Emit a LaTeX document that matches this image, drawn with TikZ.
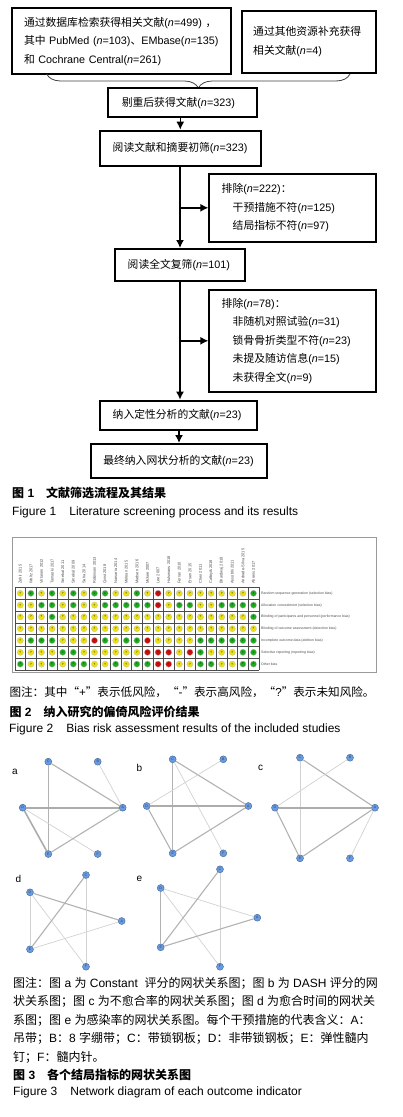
\documentclass[tikz,border=0pt]{standalone}
\usepackage{fontspec}
\setmainfont{Liberation Sans}
\newfontfamily\cjk{Noto Sans CJK SC}
\usetikzlibrary{positioning, arrows.meta, decorations.pathreplacing}

% Chinese runs are set in the CJK face
\newcommand\zh[1]{{\cjk #1}}

\definecolor{risk1}{RGB}{30,170,30}
\definecolor{risk2}{RGB}{235,225,20}
\definecolor{risk3}{RGB}{200,15,15}
\definecolor{netblue}{RGB}{105,155,225}
\newcommand\risksym[1]{\ifcase#1\or+\or?\or--\fi}

\begin{document}
\begin{tikzpicture}[x=1pt, y=-1pt,
    flowbox/.style={draw, line width=1.9pt, align=left, inner sep=0pt, font=\fontsize{10.8}{18.5}\selectfont},
    arr/.style={line width=1.5pt, -{Latex[length=8pt,width=8pt]}},
    captxt/.style={anchor=west, inner sep=0pt, font=\fontsize{12}{14}\selectfont},
    capbold/.style={captxt, font=\fontsize{12}{14}\selectfont\bfseries},
    notetxt/.style={captxt, font=\fontsize{11.6}{14}\selectfont},
    gridline/.style={black!70, line width=0.4pt},
    riskdot/.style={circle, draw=black!25, line width=0.3pt, minimum size=6.2pt, inner sep=0pt, font=\fontsize{3}{3}\selectfont},
    collab/.style={rotate=90, anchor=west, inner sep=0pt, text=black!70, font=\fontsize{4}{4}\selectfont},
    rowlab/.style={anchor=west, inner sep=0pt, text=black!70, font=\fontsize{3.5}{4}\selectfont},
    netnode/.style={circle, fill=netblue, draw=netblue!65!black, line width=0.4pt, minimum size=7pt, inner sep=0pt, text=netblue!40!black, font=\fontsize{3.5}{3.5}\selectfont},
    wt1/.style={gray!35, line width=0.7pt},
    wt2/.style={gray!60, line width=1.1pt},
    wt3/.style={gray!65, line width=1.6pt},
    panlab/.style={inner sep=0pt, font=\fontsize{10}{10}\selectfont}]
    \useasboundingbox (0,0) rectangle (402,1117);

    % 1. Records from databases and other sources
    \node[flowbox, minimum width=218.4pt, minimum height=65.7pt, text width=195pt] (src) at (121.5,41.2)
        {\zh{通过数据库检索获得相关文献}(\textit{n}=499)~\zh{，}\\\zh{其中}~PubMed~(\textit{n}=103)\zh{、}EMbase(\textit{n}=135)\\\zh{和}~Cochrane~Central(\textit{n}=261)};
    \node[flowbox, minimum width=133.7pt, minimum height=62pt, text width=112pt] (other) at (309.2,41.7)
        {\zh{通过其他资源补充获得}\\\zh{相关文献}(\textit{n}=4)};

    % 2. Brace joining both sources
    \coordinate (brl) at (46.7,74);
    \coordinate (brr) at (350,74);
    \draw[black!75, line width=0.8pt, decorate, decoration={brace, amplitude=14pt}] (brr) -- (brl);

    % 3. Screening steps
    \node[flowbox, minimum width=149pt, minimum height=29pt, text width=122pt] (dedup) at (182.8,102.8)
        {\zh{剔重后获得文献}(\textit{n}=323)};
    \node[flowbox, minimum width=160.7pt, minimum height=35.3pt, text width=135.2pt] (title) at (180.3,148.3)
        {\zh{阅读文献和摘要初筛}(\textit{n}=323)};
    \node[flowbox, minimum width=166.7pt, minimum height=67.7pt, text width=142pt] (excl1) at (292.7,207.8)
        {\zh{排除}(\textit{n}=222)\zh{：}\\\hspace*{11pt}\zh{干预措施不符}(\textit{n}=125)\\\hspace*{11pt}\zh{结局指标不符}(\textit{n}=97)};
    \node[flowbox, minimum width=130pt, minimum height=31.7pt, text width=104.6pt] (full) at (180,264.8)
        {\zh{阅读全文复筛}(\textit{n}=101)};
    \node[flowbox, minimum width=166.7pt, minimum height=101.7pt, text width=142pt] (excl2) at (292.7,340.8)
        {\zh{排除}(\textit{n}=78)\zh{：}\\\hspace*{11pt}\zh{非随机对照试验}(\textit{n}=31)\\\hspace*{11pt}\zh{锁骨骨折类型不符}(\textit{n}=23)\\\hspace*{11pt}\zh{未提及随访信息}(\textit{n}=15)\\\hspace*{11pt}\zh{未获得全文}(\textit{n}=9)};
    \node[flowbox, minimum width=157.3pt, minimum height=29.3pt, text width=132pt] (qual) at (178.7,415.3)
        {\zh{纳入定性分析的文献}(\textit{n}=23)};
    \node[flowbox, minimum width=176.6pt, minimum height=33.7pt, text width=151.4pt] (final) at (179,460.8)
        {\zh{最终纳入网状分析的文献}(\textit{n}=23)};

    % 4. Arrows
    \draw[arr] (title.north |- dedup.south) -- (title.north);
    \draw[arr] (full.north |- title.south) -- (full.north);
    \draw[arr] (full.north |- excl1.west) -- (excl1.west);
    \draw[arr] (full.south) -- (full.south |- qual.north);
    \draw[arr] (full.south |- excl2.west) -- (excl2.west);
    \draw[arr] (final.north |- qual.south) -- (final.north);

    \node[capbold] (cap1) at (12,493) {\zh{图} 1\hspace{1em}\zh{文献筛选流程及其结果}};
    \node[captxt] (cap1en) at (12,512.3) {Figure 1\hspace{1.1em}Literature screening process and its results};

    % 5. Risk of bias table
    \draw[gray!80, line width=0.9pt] (12,537) rectangle (376,672);
    \foreach \i in {0,...,23}
        \draw[gridline] (15+10.6*\i,587.4) -- (15+10.6*\i,670);
    \foreach \j in {0,...,7}
        \draw[gridline] (15,587.4+11.8*\j) -- (258.8,587.4+11.8*\j);
    \foreach \st [count=\i] in {Zehir 2015, Woltz 2017, Virtanen 2012, Tamaoki 2017, Smekal 2011, Smekal 2009,
        Saha 2014, Robinson 2013, Qvist 2018, Narsaria 2014, Melean 2015, Madsen 2016, Mckee 2007, Lee 2007,
        Hulsmans 2018, Ferran 2010, Ersen 2015, Chen 2011, Calbiyik 2018, Bhardwaj 2018, Assobhi 2011,
        Andrade-Silva 2015, Ahrens 2017}
        \node[collab] (st-\i) at (15+10.6*\i-5.3,584) {\st};
    \foreach \lab [count=\j] in {Random sequence generation (selection bias), Allocation concealment (selection bias),
        Blinding of participants and personnel (performance bias), Blinding of outcome assessment (detection bias),
        Incomplete outcome data (attrition bias), Selective reporting (reporting bias), Other bias}
        \node[rowlab] (dom-\j) at (261,587.4+11.8*\j-5.9) {\lab};
    \foreach \rowdata [count=\j] in {
        {2,1,2,1,2,1,2,1,1,2,2,1,2,3,2,2,2,2,2,2,2,2,1},
        {2,2,1,1,2,1,2,2,1,1,1,1,1,3,2,1,1,2,2,1,1,1,1},
        {2,2,2,1,2,2,2,2,2,2,2,2,2,2,2,2,2,2,2,2,2,2,1},
        {2,2,2,2,2,2,2,2,2,2,2,2,2,2,2,2,2,2,2,2,2,2,2},
        {2,1,1,1,2,2,2,3,1,2,1,1,3,2,2,2,2,1,1,1,1,1,1},
        {2,2,2,2,1,1,2,2,2,2,2,2,3,3,3,2,3,1,2,2,2,1,1},
        {1,2,2,1,2,1,1,2,2,1,2,1,1,3,3,2,2,1,1,2,2,1,1}}
        \foreach \rk [count=\i] in \rowdata
            \node[riskdot, fill=risk\rk] (rb-\i-\j) at (15+10.6*\i-5.3,587.4+11.8*\j-5.9) {\risksym{\rk}};

    \node[notetxt] (note2) at (9.3,691.7) {\zh{图注：其中“}+\zh{”表示低风险，“}-\zh{”表示高风险，“}?\zh{”表示未知风险。}};
    \node[capbold] (cap2) at (9.3,712) {\zh{图} 2\hspace{1em}\zh{纳入研究的偏倚风险评价结果}};
    \node[captxt] (cap2en) at (9,729) {Figure 2\hspace{1.1em}Bias risk assessment results of the included studies};

    % 6. Network plots
    \node[panlab] (la) at (15,771.7) {a};
    \foreach \n/\x/\y in {A/122.7/807.7, B/97.7/761.7, C/48.3/761.7, D/22.7/807.7, E/48.3/854, F/97.7/854}
        \node[netnode] (a\n) at (\x,\y) {\n};
    \foreach \s/\t/\w in {C/A/2, C/E/2, B/A/1, D/A/3, D/E/3, D/F/1, E/A/2}
        \draw[wt\w] (a\s) -- (a\t);

    \node[panlab] (lb) at (139.3,768.3) {b};
    \foreach \n/\x/\y in {A/248.3/806, B/223.3/759.3, C/172.7/759.3, D/146.7/806, E/172.7/853.3, F/223.3/853.3}
        \node[netnode] (b\n) at (\x,\y) {\n};
    \foreach \s/\t/\w in {C/A/2, C/E/2, C/F/1, B/D/1, D/A/3, D/E/2, E/A/2}
        \draw[wt\w] (b\s) -- (b\t);

    \node[panlab] (lc) at (260.7,768.3) {c};
    \foreach \n/\x/\y in {A/375/807.7, B/350/757.7, C/300/757.7, D/275/807.7, E/300/858.3, F/350/858.3}
        \node[netnode] (c\n) at (\x,\y) {\n};
    \foreach \s/\t/\w in {C/A/2, C/E/1, B/D/1, D/A/3, D/E/2, E/A/2, A/F/1}
        \draw[wt\w] (c\s) -- (c\t);

    \node[panlab] (ld) at (18.3,879.3) {d};
    \foreach \n/\x/\y in {A/121.7/921, C/86/875, D/30/892.3, E/30/949.3, F/86/966.7}
        \node[netnode] (d\n) at (\x,\y) {\n};
    \foreach \s/\t/\w in {D/A/2, D/E/1, D/F/1, C/E/2, C/F/1, E/A/1}
        \draw[wt\w] (d\s) -- (d\t);

    \node[panlab] (le) at (139.3,879.3) {e};
    \foreach \n/\x/\y in {A/257.3/917.7, C/220/869.3, D/160.7/888, E/160.7/947.3, F/220/966.7}
        \node[netnode] (e\n) at (\x,\y) {\n};
    \foreach \s/\t/\w in {D/A/1, D/E/2, D/F/1, C/E/2, C/F/1, E/A/2}
        \draw[wt\w] (e\s) -- (e\t);

    % 7. Notes and captions of figure 3
    \node[captxt] (n3a) at (13,983.3) {\zh{图注：图} a \zh{为} Constant\ \ \zh{评分的网状关系图；图} b \zh{为} DASH \zh{评分的网}};
    \node[captxt] (n3b) at (13,1001.7) {\zh{状关系图；图} c \zh{为不愈合率的网状关系图；图} d \zh{为愈合时间的网状关}};
    \node[captxt] (n3c) at (13,1020) {\zh{系图；图} e \zh{为感染率的网状关系图。每个干预措施的代表含义：}A\zh{：}};
    \node[captxt] (n3d) at (13,1038.3) {\zh{吊带；}B\zh{：}8 \zh{字绷带；}C\zh{：带锁钢板；}D\zh{：非带锁钢板；}E\zh{：弹性髓内}};
    \node[captxt] (n3e) at (13,1057.3) {\zh{钉；}F\zh{：髓内针。}};
    \node[capbold] (cap3) at (13,1075) {\zh{图} 3\hspace{1em}\zh{各个结局指标的网状关系图}};
    \node[captxt] (cap3en) at (13,1092.3) {Figure 3\hspace{1.1em}Network diagram of each outcome indicator};
\end{tikzpicture}
\end{document}
